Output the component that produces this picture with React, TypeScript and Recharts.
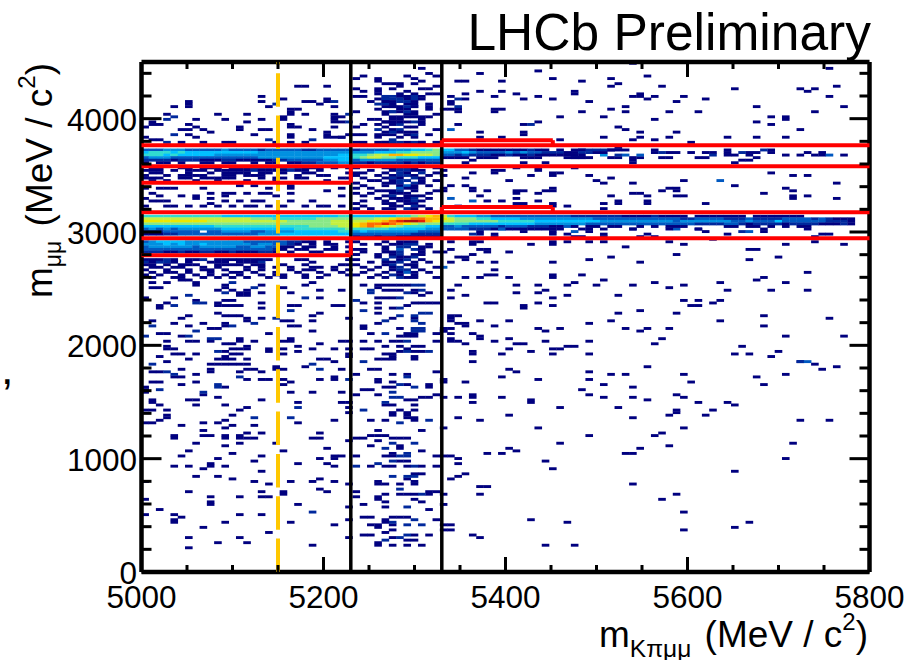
import { ScatterChart, Scatter, XAxis, YAxis, ReferenceLine } from "recharts";

const massDomain = [5000, 5800];
const dimuonDomain = [0, 4500];
const massBin = 8; // MeV per bin, 100 bins across
const dimuonBin = 22.5; // MeV per bin, 200 bins up

const massTicks = [5000, 5050, 5100, 5150, 5200, 5250, 5300, 5350, 5400, 5450, 5500, 5550, 5600, 5650, 5700, 5750, 5800];
const dimuonTicks = [0, 200, 400, 600, 800, 1000, 1200, 1400, 1600, 1800, 2000, 2200, 2400, 2600, 2800, 3000, 3200, 3400, 3600, 3800, 4000, 4200, 4400];

// colour scale of the histogram, index = level (0 is empty)
const palette = ["none", "#00007f", "#00289c", "#0058c0", "#0090e0", "#00c0ff", "#30dcd0", "#88e888", "#c4f040", "#ece800", "#ffb400", "#ff6a00", "#e82000", "#b01010"];

// single entries, [mass bin, dimuon bin]
const sparseLowRight = [
  [43,112],[51,112],[54,112],[58,112],[59,113],[62,112],[63,114],[67,112],[70,113],[72,111],[74,112],[79,113],[84,114],[88,113],[42,110],[55,110],[80,110],[86,110],[91,110],[44,108],[51,109],[54,109],[58,108],[65,108],[42,107],[56,107],[74,106],[76,106],[79,106],[47,105],[48,105],[54,105],[78,105],[75,104],[76,104],[52,104],[52,103],[56,104],[68,102],[43,100],[42,100],[65,101],[73,101],[85,100],[42,99],[42,98],[94,99],[46,98],[50,98],[64,98],[79,98],[43,97],[44,97],[44,96],[61,97],[85,96],[48,96],[41,95],[42,95],[54,95],[57,95],[66,95],[69,95],[72,95],[55,94],[68,94],[41,94],[42,93],[45,93],[46,92],[46,91],[88,92],[96,92],[71,91],[50,91],[42,91],[42,90],[43,90],[48,90],[55,90],[61,90],[44,89],[70,89],[51,89],[52,89],[58,88],[59,88],[82,88],[50,87],[56,87],[57,87],[53,86],[87,86],[45,86],[45,85],[49,85],[56,85],[61,85],[81,85],[83,85],[86,84],[45,82],[90,82],[92,81],[69,80],[95,80],[50,79],[93,79],[51,78],[61,78],[64,77],[66,77],[74,77],[88,77],[49,76],[84,76],[54,75],[61,75],[41,75],[41,74],[44,74],[75,74],[63,73],[85,73],[67,72],[60,71],[61,69],[73,69],[45,69],[45,68],[41,68],[43,68],[49,68],[63,68],[67,68],[74,68],[69,67],[53,67],[53,66],[45,66],[76,66],[80,66],[81,65],[57,64],[65,64],[78,63],[73,63],[73,62],[50,61],[72,61],[77,61],[43,60],[67,60],[46,59],[90,59],[94,59],[41,56],[54,56],[74,56],[61,53],[70,53],[71,54],[57,50],[72,49],[89,50],[50,48],[68,48],[51,47],[47,46],[49,46],[66,46],[67,46],[41,45],[42,45],[43,44],[88,44],[55,43],[43,42],[56,40],[81,39],[44,38],[43,37],[42,36],[67,34],[46,33],[47,33],[41,30],[46,30],[73,30],[71,28],[41,26],[74,23],[53,20],[58,19],[83,19],[41,18],[42,18],[81,17],[42,16],[74,16],[45,14],[46,13],[55,10],[59,10],
];

const sparseLowLeft = [
  [6,9],[10,11],[14,11],[6,13],[13,13],[23,10],[17,15],[8,17],[4,20],[4,19],[4,22],[5,21],[11,19],[20,19],[28,20],[26,18],[28,13],[21,26],[9,26],[9,27],[2,24],[13,22],[16,22],[0,22],[28,25],[0,28],[9,29],[13,29],[16,29],[17,29],[19,31],[19,30],[6,31],[16,31],[24,32],[25,31],[0,35],[15,35],[17,34],[20,35],[23,35],[24,36],[26,35],[28,34],[7,37],[10,37],[12,36],[16,39],[4,41],[6,41],[8,40],[9,42],[9,41],[11,41],[21,42],[25,42],[26,41],[15,43],[5,45],[10,44],[16,45],[24,44],[26,44],[26,45],[27,45],[12,46],[19,47],[6,47],[25,48],[11,49],[7,50],[13,50],[18,50],[28,51],[4,53],[4,52],[11,53],[11,52],[13,53],[13,52],[14,54],[14,52],[8,55],[8,53],[9,53],[16,54],[15,52],[24,54],[23,52],[24,52],[11,56],[12,57],[15,57],[5,57],[0,58],[1,58],[2,59],[8,58],[10,58],[11,59],[21,58],[26,59],[28,62],[3,61],[3,60],[12,61],[0,63],[1,63],[3,63],[13,63],[14,64],[7,65],[11,65],[2,65],[1,67],[1,66],[6,67],[7,67],[16,67],[21,66],[27,66],[28,66],[28,64],[8,69],[10,68],[0,70],[23,70],[20,70],[27,70],[0,72],[0,71],[5,73],[7,74],[11,72],[19,73],[1,74],[2,74],[14,75],[16,75],[17,75],[26,76],[26,75],[24,75],[20,74],[19,75],[4,76],[5,76],[7,77],[1,78],[2,78],[9,78],[13,78],[16,78],[5,79],[9,79],[14,79],[15,79],[18,79],[19,79],[27,79],[9,81],[10,81],[11,81],[12,81],[13,81],[14,81],[22,80],[18,80],[3,82],[6,83],[10,83],[11,83],[12,83],[14,83],[24,83],[25,83],[26,82],[2,84],[4,85],[5,85],[7,85],[11,84],[12,85],[13,85],[19,85],[28,85],[28,84],[21,86],[23,87],[21,88],[3,87],[4,87],[3,88],[11,86],[12,87],[13,87],[14,87],[14,88],[17,87],[17,86],[19,87],[26,87],[28,87],[3,90],[6,90],[7,90],[9,90],[11,89],[12,89],[13,91],[13,90],[15,90],[19,90],[20,90],[20,91],[24,89],[27,90],[28,90],[2,93],[3,93],[5,92],[17,93],[23,94],[9,95],[10,95],[11,97],[11,96],[4,97],[6,96],[8,97],[19,98],[20,98],[20,96],[21,96],[23,98],[1,98],[5,99],[14,98],[14,99],[13,100],[6,100],[10,101],[11,100],[12,100],[16,99],[28,99],[24,101],[23,100],[16,103],[2,104],[2,103],[3,105],[10,105],[10,104],[11,104],[12,104],[13,104],[16,105],[20,104],[21,104],[26,104],[27,104],[0,107],[4,107],[7,106],[11,106],[12,106],[14,109],[14,108],[13,108],[16,109],[20,109],[24,107],[27,110],[1,111],[2,111],[7,112],[7,113],[11,111],[11,112],[10,110],[12,110],[13,109],[14,110],[16,112],[19,111],[22,112],[23,113],[24,110],[1,113],[3,113],[5,114],[6,114],
];

const sparseLowCentre = [
  [32,10],[32,11],[34,10],[36,10],[38,10],[34,13],[37,14],[36,12],[37,12],[30,14],[31,14],[33,15],[34,16],[39,14],[31,18],[32,18],[32,17],[33,19],[34,21],[34,18],[33,20],[40,20],[30,21],[31,21],[35,21],[36,21],[41,16],[30,26],[33,25],[39,24],[32,28],[32,29],[33,30],[35,30],[36,30],[37,30],[39,31],[39,30],[40,31],[29,31],[29,29],[33,27],[38,27],[37,28],[32,35],[32,34],[33,34],[35,34],[37,35],[37,34],[36,36],[37,38],[38,38],[31,41],[33,41],[34,41],[36,41],[38,41],[40,41],[35,43],[36,43],[29,45],[33,45],[34,45],[40,45],[34,46],[38,47],[35,48],[35,49],[31,49],[32,51],[29,52],[30,52],[31,53],[32,53],[33,53],[34,52],[35,52],[36,52],[38,55],[32,55],[31,59],[33,59],[37,60],[37,59],[36,61],[36,60],[34,62],[34,61],[36,62],[37,63],[35,63],[33,65],[34,65],[37,65],[36,67],[37,67],[38,68],[39,68],[32,69],[40,69],[29,69],[30,71],[31,71],[33,72],[34,72],[32,75],[32,74],[34,74],[36,73],[39,73],[39,72],[29,77],[31,79],[32,79],[34,77],[36,77],[40,78],[32,83],[33,83],[34,84],[34,83],[37,84],[37,83],[36,87],[38,86],[37,86],[35,86],[33,85],[34,85],[30,87],[31,87],[33,88],[35,88],[38,88],[37,88],[30,90],[34,90],[35,90],[40,90],[32,90],[36,92],[37,92],[35,92],[36,93],[37,93],[40,93],[30,96],[30,95],[31,93],[35,95],[41,94],[32,97],[34,99],[37,99],[32,101],[34,103],[32,105],[32,103],[36,104],[37,105],[38,105],[39,105],[40,105],[30,105],[34,107],[32,107],[33,107],[38,108],[37,109],[39,109],[32,111],[33,110],[34,110],[35,110],[37,110],[32,112],[33,112],[34,112],[35,112],[36,112],[30,112],
];

const sparseHighLeft = [
  [21,190],[22,190],[25,190],[16,186],[16,184],[19,185],[4,182],[6,183],[6,182],[6,184],[17,182],[22,184],[23,184],[24,183],[25,184],[25,185],[26,182],[20,181],[20,180],[20,179],[21,181],[22,179],[26,179],[26,178],[26,177],[26,176],[27,178],[3,179],[10,179],[14,179],[7,177],[11,177],[16,177],[19,178],[19,177],[14,176],[1,176],[1,175],[2,175],[0,174],[6,175],[7,174],[5,173],[6,173],[8,173],[9,172],[13,174],[13,173],[20,175],[20,174],[21,174],[16,173],[17,173],[23,173],[26,174],[6,171],[7,170],[15,171],[20,171],[20,170],[25,172],[25,171],[25,170],[26,170],[27,170],[0,170],[1,169],[2,169],[28,171],[5,168],[8,168],[11,168],[12,168],[18,168],[20,168],[22,168],
  [2,150],[3,150],[4,150],[8,150],[13,151],[15,151],[17,150],[20,150],[20,151],[25,149],[27,150],[0,150],[1,148],[2,147],[5,147],[7,147],[9,148],[9,146],[11,148],[11,147],[12,148],[14,148],[17,148],[16,148],[20,148],[0,146],[1,145],[2,145],[3,145],[7,146],[9,144],[11,145],[13,145],[15,145],[16,145],[18,147],[20,145],[23,145],[27,147],[0,143],[4,143],[3,143],[6,143],[8,143],[10,143],[12,143],[14,143],[15,143],[17,143],[19,143],[22,143],[24,143],[25,143],[27,143],
];

const sparseHighCentre = [
  [38,197],[39,195],[40,194],[29,193],[30,194],[32,193],[32,192],[36,194],[37,193],[38,192],[37,191],[33,191],[34,191],[35,191],[35,190],[40,190],[39,189],[38,189],[32,189],[32,188],[29,189],[30,188],[34,189],[36,188],[37,187],[40,187],[39,187],[35,187],[32,187],[33,186],[29,186],[30,186],[33,184],[32,185],[31,184],[34,183],[34,182],[36,183],[37,183],[39,183],[39,182],[39,181],[36,181],[35,181],[29,180],[32,181],[36,179],[37,179],[33,179],[34,178],[35,178],[36,178],[37,178],[38,178],[39,178],[40,179],[31,177],[32,177],[34,177],[35,177],[38,177],[33,176],[34,175],[38,175],[29,174],[30,175],[32,175],[33,174],[36,174],[37,174],[40,173],[34,173],[30,171],[29,171],[33,171],[34,171],[36,171],[39,171],[32,171],[30,168],[33,168],[38,168],[35,170],[37,170],[32,170],[27,176],[27,170],
];

const sparseHighRight = [
  [46,195],[54,196],[67,199],[94,197],[56,193],[69,194],[64,193],[43,192],[44,192],[49,192],[60,192],[65,191],[64,190],[71,190],[95,190],[81,189],[90,189],[92,189],[91,188],[46,188],[49,188],[59,188],[59,187],[44,187],[51,187],[42,186],[48,186],[54,186],[67,186],[68,186],[68,187],[70,186],[74,186],[94,186],[44,185],[52,185],[56,185],[69,185],[77,185],[61,184],[73,184],[42,184],[42,183],[66,182],[84,182],[96,182],[41,181],[42,181],[43,181],[43,180],[48,181],[48,180],[49,181],[64,181],[60,180],[66,180],[72,180],[76,180],[92,180],[57,178],[63,178],[86,178],[88,178],[88,177],[70,177],[54,176],[43,175],[52,175],[84,176],[86,175],[65,174],[66,173],[90,173],[46,172],[68,172],[73,172],[52,172],[52,171],[46,170],[49,170],[63,170],[68,170],[72,170],[80,170],[84,170],[88,170],[57,169],[67,169],[70,169],[75,168],
  [65,166],[65,165],[64,165],[66,165],[70,165],[70,164],[72,164],[73,164],[75,164],[77,164],[78,164],[80,165],[80,164],[83,164],[86,165],[86,164],[84,164],[83,163],[80,163],[81,163],[88,163],[90,163],[91,164],[92,163],[93,164],[93,163],[96,163],[64,162],[65,162],[67,162],[67,161],[67,160],[68,162],[71,162],[72,162],[76,162],[77,162],[84,162],[82,161],[83,161],[81,160],[59,162],[60,162],[55,160],[52,160],[44,160],[45,161],
  [59,158],[51,158],[54,158],[54,157],[41,157],[45,156],[48,157],[48,156],[49,157],[56,156],[56,155],[57,156],[53,155],[61,155],[86,156],[89,155],[91,155],[41,155],[44,154],[64,154],[50,153],[62,153],[74,153],[63,152],[67,152],[95,152],[42,151],[44,151],[81,151],[45,150],[45,149],[41,150],[41,149],[72,150],[73,150],[88,150],[47,149],[52,149],[51,149],[51,148],[55,149],[56,150],[56,149],[54,148],[71,149],[73,149],[89,149],[67,148],[68,148],[85,148],[46,147],[64,147],[69,147],[73,147],[74,147],[89,147],[89,146],[91,147],[51,146],[95,146],[47,145],[49,145],[54,145],[65,145],[65,144],[69,145],[69,144],[77,144],[51,144],[52,144],[56,144],[56,143],[63,144],[58,143],[43,143],[63,142],
  [61,134],[61,133],[67,134],[76,134],[77,133],[85,134],[85,133],[91,134],[52,133],[56,133],[48,132],[46,133],[46,132],[69,132],[63,132],[80,132],[93,132],[94,132],[56,132],[58,132],[48,131],[68,131],[70,131],[92,131],[59,131],[60,131],[63,131],[78,130],[58,129],[61,129],[63,129],[72,129],[42,129],[46,129],[45,129],[45,128],[56,129],[56,128],[92,129],[53,128],[74,128],[88,128],[96,128],[66,127],[42,126],[46,126],[47,126],[47,125],[83,126],[84,126],[50,125],[41,125],[45,124],[73,124],[43,123],[44,123],[44,122],[64,123],[87,123],[61,122],[83,122],[42,121],[46,121],[48,121],[56,121],[68,121],[48,118],[91,117],[47,116],[48,116],[60,116],[44,115],[46,115],[50,115],[56,116],[56,115],[85,115],
];

// a little brighter than a single entry, [mass bin, dimuon bin, level]
const brighterCells = [
  [90,82,2],[91,82,3],[23,23,2],[15,60,2],[20,60,2],[21,64,2],[8,70,2],[2,71,2],[10,73,2],[10,72,2],[13,76,2],[28,75,2],[4,77,2],[3,78,2],[24,79,2],[1,81,2],[23,81,2],[10,86,2],[9,91,2],[10,91,2],[0,92,2],[6,92,2],[7,94,2],[12,96,2],[1,96,2],[15,97,2],[18,99,2],[20,102,2],[4,104,2],[7,105,2],[8,105,2],[6,108,2],[22,107,2],[11,109,2],[15,111,2],[12,113,2],
  [33,12,2],[35,13,2],[36,14,2],[34,19,2],[36,18,2],[38,18,2],[37,20,2],[36,25,2],[38,30,2],[35,32,2],[36,37,2],[34,37,2],[37,37,2],[29,41,2],[37,41,2],[32,42,2],[34,43,2],[35,45,2],[36,45,2],[36,46,2],[33,48,2],[34,50,2],[37,50,2],[35,58,2],[39,59,2],[30,63,2],[33,66,2],[34,68,2],[35,68,2],[34,70,2],[35,73,2],[37,72,2],[36,76,2],[30,82,2],[36,86,2],[39,86,2],[36,90,2],[33,93,2],[37,95,2],[37,94,2],[38,95,2],[38,94,2],[37,98,2],[33,98,2],[35,100,2],[37,100,2],[38,97,2],[39,101,2],[38,101,2],[30,102,2],[35,103,2],[29,106,2],[35,107,2],[36,109,2],[31,110,2],[31,109,2],[38,110,2],[37,112,2],[38,112,2],
  [18,183,2],[26,184,2],[28,179,2],[28,176,2],[4,178,2],[3,177,2],[4,171,2],[17,169,2],[23,169,2],[3,168,2],[37,186,2],[36,186,2],[32,183,2],[33,183,2],[37,182,2],[34,180,2],[35,175,2],[35,173,2],[32,173,2],[37,171,2],[34,169,2],
  [43,185,2],[42,173,3],[43,182,2],[53,175,2],[61,165,2],[60,165,2],[71,164,2],[78,163,2],[82,164,2],[85,165,2],[94,163,3],[63,163,4],[65,163,2],[66,163,3],[68,163,3],[42,146,3],[45,145,3],[49,134,3],[59,133,3],[82,133,2],[83,133,3],[73,134,3],[45,132,2],[41,119,3],[79,153,3],
];

// dense part of the picture: [dimuon bin, first mass bin, levels]
const psiBandLeft = [
  [165,0,[3,3,3,4,4,4,3,3,3,3,3,4,3,3,3,3,2,3,3,3,3,3,2,2,3,3,3,3,3]],
  [164,0,[5,6,6,6,5,6,5,5,5,5,5,5,5,5,5,5,4,4,4,4,4,4,4,4,4,4,4,4,4]],
  [163,0,[6,6,6,5,6,5,5,5,5,5,4,4,4,4,4,4,4,4,4,4,4,4,4,4,4,4,4,5,5]],
  [162,0,[3,4,4,4,3,3,3,3,3,3,3,3,3,3,3,3,4,4,4,4,4,4,4,4,4,5,5,5,5]],
  [161,0,[2,2,2,2,1,2,2,2,1,1,1,2,2,1,1,1,1,1,2,2,3,3,3,3,3,4,4,5,5]],
  [160,0,[1,0,1,1,0,1,0,0,1,1,0,1,1,0,0,1,0,1,1,0,1,1,2,2,3,3,3,4,4]],
  [158,0,[0,1,1,0,0,1,1,0,1,1,1,0,1,1,1,2,2,2,2,2,3,2,1,1,1,0,1,0,1]],
  [157,0,[1,1,1,0,1,0,1,1,1,0,1,1,1,1,1,2,1,1,1,1,2,1,1,0,1,0,0,0,0]],
  [156,0,[0,1,1,0,0,0,1,0,0,1,0,1,1,1,1,0,1,1,0,1,0,0,1,1,0,0,0,0,1]],
  [155,0,[1,0,0,1,0,1,1,1,1,0,0,1,1,0,1,1,1,0,0,0,0,1,0,0,1,1,0,0,0]],
  [154,0,[1,1,1,0,0,1,1,0,1,1,1,1,1,0,0,0,1,0,1,1,0,1,1,0,0,0,0,1,1]],
  [153,0,[0,1,0,1,0,0,0,1,0,0,1,0,0,0,1,0,0,0,1,0,0,0,0,0,0,1,0,0,0]],
];

const jpsiBandLeft = [
  [139,0,[6,6,6,6,6,6,6,6,6,6,6,5,5,5,5,5,5,5,5,5,5,5,5,5,5,5,5,6,6]],
  [138,0,[8,8,8,8,8,8,8,8,8,8,8,8,8,8,8,7,7,7,6,6,6,6,6,6,7,7,7,7,7]],
  [137,0,[9,9,9,9,9,9,9,9,9,8,8,8,8,8,8,8,8,8,8,8,7,7,7,7,7,7,8,8,8]],
  [136,0,[7,7,7,7,7,7,7,7,7,7,7,7,7,7,7,7,7,7,7,7,7,7,7,7,7,7,8,8,8]],
  [135,0,[5,5,5,5,5,5,5,5,5,5,6,6,6,6,6,6,6,6,6,6,6,6,6,7,7,7,7,8,8]],
  [134,0,[3,4,3,4,3,4,4,4,4,4,4,5,5,5,5,5,5,5,5,5,5,6,6,6,6,6,6,6,7]],
  [133,0,[2,2,2,3,3,3,3,3,0,3,3,4,4,4,4,3,3,4,4,4,4,5,5,5,5,5,5,6,6]],
  [132,0,[1,1,1,2,2,3,3,3,3,3,3,3,3,3,3,3,4,4,4,5,5,5,5,5,5,5,5,5,5]],
  [129,0,[3,4,5,5,5,5,4,4,4,4,4,4,4,4,3,3,3,3,3,3,2,2,1,1,0,1,0,0,1]],
  [128,0,[4,4,4,5,4,5,4,4,5,4,4,4,4,4,4,3,4,4,3,3,2,1,0,1,0,1,1,0,0]],
  [127,0,[3,4,4,4,4,4,4,3,4,4,4,4,4,3,3,4,4,3,3,1,1,0,1,1,0,0,1,0,1]],
  [126,0,[3,3,3,3,3,3,3,3,3,3,3,3,3,3,3,3,3,3,2,1,0,1,1,0,0,1,1,0,0]],
  [125,0,[2,2,2,1,1,2,1,1,2,2,1,1,2,1,1,1,2,2,1,0,1,0,0,1,1,0,0,0,1]],
  [122,0,[1,1,1,2,1,0,1,1,2,0,1,1,1,1,1,1,1,1,0,0,0,1,1,0,0,0,0,0,1]],
  [121,0,[2,1,2,2,1,0,1,0,0,1,1,1,0,1,1,1,2,0,0,0,0,0,0,1,0,0,0,0,0]],
  [120,0,[1,1,0,1,0,1,1,1,0,0,1,1,1,1,0,1,1,0,0,1,0,0,1,0,0,0,0,1,1]],
  [119,0,[0,1,1,0,1,1,0,0,1,0,1,0,0,0,1,0,1,0,1,0,1,0,0,1,1,0,1,0,0]],
  [118,0,[1,0,0,1,0,0,1,0,1,1,0,1,0,0,1,0,1,0,0,0,1,0,1,1,0,0,1,0,1]],
  [117,0,[0,1,0,1,1,0,1,0,0,1,0,0,1,1,0,1,0,0,1,0,0,1,0,0,1,0,0,1,0]],
  [116,0,[1,0,1,0,0,1,0,1,0,1,0,1,0,1,0,0,1,0,1,1,0,0,1,0,0,1,0,0,1]],
  [115,0,[0,1,0,0,1,1,0,0,1,0,1,0,1,0,1,0,0,1,0,1,0,0,1,0,1,0,0,0,0]],
];

const signalWindow = [
  [186,33,[2,2,1,1,2,1]],
  [185,33,[2,2,2,1,2,1]],
  [184,33,[1,1,2,2,1]],
  [182,33,[1,1,1,2,1]],
  [180,33,[1,2,1,2,1]],
  [176,33,[1,1,1,1,2,1]],
  [172,33,[1,2,1,1,1]],
  [168,29,[1,0,0,1,1,2,2,1,2,1,0,1]],
  [167,29,[0,1,0,1,2,1,2,2,1,1,1,0]],
  [165,29,[2,3,3,3,3,4,4,4,5,5,6,7]],
  [164,29,[4,4,4,5,5,5,6,6,7,7,7,7]],
  [163,29,[6,6,7,8,8,10,10,9,9,8,8,7]],
  [162,29,[6,7,8,8,7,7,6,6,6,5,5,5]],
  [161,29,[3,4,4,4,4,4,3,3,3,3,3,3]],
  [160,29,[2,2,1,2,2,2,2,1,2,1,2,2]],
  [158,29,[1,0,0,0,1,1,2,2,1,0,0,1]],
  [157,29,[0,0,1,0,0,1,2,2,1,1,0,0]],
  [156,29,[1,1,0,0,1,0,2,1,0,2,0,1]],
  [155,29,[1,0,0,1,0,1,2,2,1,0,1,0]],
  [154,29,[0,1,0,0,1,2,1,0,2,1,0,0]],
  [153,29,[0,0,1,1,0,1,2,2,0,1,0,1]],
  [152,29,[1,0,0,0,1,1,2,0,2,1,0,0]],
  [151,29,[0,1,0,0,1,0,1,3,1,0,1,0]],
  [150,29,[1,0,1,0,0,0,3,1,1,0,0,0]],
  [149,29,[0,0,0,1,1,1,2,0,1,0,0,1]],
  [148,29,[1,0,1,0,0,1,1,1,0,0,1,0]],
  [147,29,[0,1,0,0,1,2,0,1,1,1,0,0]],
  [146,29,[0,0,0,1,0,1,1,1,2,0,1,0]],
  [145,29,[0,1,0,0,1,0,1,1,2,1,0,0]],
  [144,29,[1,0,0,0,1,1,0,1,1,0,0,0]],
  [143,29,[0,1,0,0,0,1,1,0,2,1,0,0]],
  [142,29,[1,0,1,0,1,1,0,2,1,0,1,0]],
  [139,29,[5,5,5,5,5,5,6,6,7,8,9,10]],
  [138,29,[7,7,7,8,8,9,10,10,11,11,10,10]],
  [137,29,[8,8,9,9,10,11,12,13,13,12,10,9]],
  [136,29,[9,10,11,11,12,11,10,9,8,7,7,7]],
  [135,29,[9,10,11,10,9,8,7,6,6,6,5,5]],
  [134,29,[6,6,6,6,6,5,5,5,5,5,4,4]],
  [133,29,[4,5,4,4,4,4,4,4,4,3,3,3]],
  [132,29,[3,3,3,3,3,3,3,3,2,2,2,2]],
  [131,29,[1,2,2,1,2,2,1,1,1,1,1,1]],
  [129,29,[1,0,0,0,1,0,1,1,1,0,0,0]],
  [128,29,[0,1,0,1,0,1,1,2,2,0,1,0]],
  [127,29,[0,0,0,0,1,0,2,2,0,1,1,0]],
  [126,29,[1,1,0,0,1,0,3,0,2,1,0,0]],
  [125,29,[0,1,0,0,1,1,2,0,0,1,0,1]],
  [124,29,[1,0,0,1,0,1,2,0,1,1,0,0]],
  [123,29,[0,0,0,1,0,2,1,1,2,0,0,0]],
  [122,29,[1,0,0,0,2,0,1,2,0,1,0,0]],
  [121,29,[0,0,1,0,1,1,2,0,1,0,1,0]],
  [120,29,[1,0,0,0,1,2,0,1,1,0,0,0]],
  [119,29,[0,1,0,1,0,1,2,0,1,0,0,1]],
  [118,29,[0,0,1,0,0,1,2,2,0,1,0,0]],
  [117,29,[0,1,0,0,1,0,1,3,1,0,1,0]],
  [116,29,[1,0,0,1,0,2,1,0,1,0,0,0]],
  [115,29,[0,0,1,0,1,0,2,1,1,0,0,1]],
];

const bandsRight = [
  [165,41,[5,5,3,3,2,1,1,1,1,1,1,1,2,1,1,0,1,0,1,1,0,2,2,1]],
  [164,41,[4,4,4,5,4,3,3,3,3,4,3,4,3,3,2,2,2,1,1,2,2,1,1,0]],
  [163,41,[3,3,2,3,2,2,2,1,1,2,1,1,2,1,1,1,1,1,1,1,0,0,0,0]],
  [162,41,[1,1,1,1,0,1,1,1,0,0,0,1,1,1,0,0,0,1,1,1,1,0,0,0]],
  [139,41,[8,6,5,5,5,4,4,3,3,3,3,3,3,3,3,3,3,3,2,2,2,2,2,2,2,1,1,1,1,2,1,1,1,1,0,1,1,1,1,1,1,1,0,1,1,1,1,1,1,1,0,0,0,0]],
  [138,41,[9,8,7,7,7,6,6,5,5,5,5,4,4,4,4,4,4,4,4,4,4,3,3,3,3,3,3,3,3,3,3,3,3,2,2,3,3,3,3,2,2,2,3,2,2,2,2,3,3,3,3,2,3,2,1,1,1]],
  [137,41,[8,8,7,7,7,7,7,7,6,6,6,6,6,5,5,5,5,5,5,5,5,5,4,4,4,4,4,4,4,4,4,4,3,4,4,4,4,4,4,4,3,3,4,3,3,3,5,3,3,3,3,3,3,2,2,2,1]],
  [136,41,[6,6,6,6,5,5,5,5,5,5,5,5,5,4,4,4,4,4,4,4,3,3,3,3,3,3,3,3,3,3,3,3,3,3,3,2,2,2,2,3,3,2,1,2,2,2,2,1,2,2,2,2,1,1,1,2,1]],
  [135,41,[3,3,4,3,3,3,3,3,2,3,3,3,2,2,2,1,1,3,1,0,1,1,0,1,1,0,0,1,0,1,0,1,1,1,0,0,0,0,0,1,1,0,1,1,0,1,0,1,0,1,1,0]],
  [134,41,[3,3,3,3,2,2,2,1,3,1,1,1,1,1,1,1,1,0,0,1,0,0,1,0,0,0,1,0,0,0,0,1,0,0,0,1,0]],
];

const blackLines = [5230, 5330];
const orangeLine = 5150;
// selection boxes, each row: from mass, from dimuon, to mass, to dimuon
const redBoxes = [
  [5000,3175,5800,3175],[5000,2945,5800,2945],[5000,2795,5230,2795],[5230,2795,5230,2945],
  [5330,3175,5330,3220],[5330,3220,5452,3220],[5452,3220,5452,3175],
  [5000,3765,5800,3765],[5000,3580,5800,3580],[5000,3435,5230,3435],[5230,3435,5230,3580],
  [5330,3765,5330,3810],[5330,3810,5452,3810],[5452,3810,5452,3765],
];

const toCell = (i: number, j: number, level: number) => ({
  mass: massDomain[0] + massBin * (i + 0.5),
  dimuon: dimuonBin * (j + 0.5),
  level,
});

const singles = [...sparseLowRight, ...sparseLowLeft, ...sparseLowCentre, ...sparseHighLeft, ...sparseHighCentre, ...sparseHighRight];
const rows = [...psiBandLeft, ...jpsiBandLeft, ...signalWindow, ...bandsRight] as [number, number, number[]][];

const cells = [
  ...singles.map(([i, j]) => toCell(i, j, 1)),
  ...brighterCells.map(([i, j, level]) => toCell(i, j, level)),
  ...rows.flatMap(([j, start, levels]) =>
    levels.flatMap((level, k) => (level > 0 ? [toCell(start + k, j, level)] : []))
  ),
];

const massMajor = (m: number) => m % 200 === 0;
const dimuonMajor = (d: number) => d % 1000 === 0;

// inward tick marks (ROOT style) on all four sides, placed by the scales
const bottomTicks = massTicks.map((mass) => ({ mass, dimuon: dimuonDomain[0] }));
const topTicks = massTicks.map((mass) => ({ mass, dimuon: dimuonDomain[1] }));
const leftTicks = dimuonTicks.map((dimuon) => ({ mass: massDomain[0], dimuon }));
const rightTicks = dimuonTicks.map((dimuon) => ({ mass: massDomain[1], dimuon }));

const fontFamily = "Liberation Sans, Arial, sans-serif";

// where the frame sits in the picture, the chart margins below come from these
const frameLeft = 141.5;
const frameRight = 869.5;
const frameTop = 62;
const frameBottom = 572;

// one histogram bin, centred on the point from the scales
const BinCell = (props: any) => (
  <rect
    x={props.cx - 3.8}
    y={props.cy - 1.45}
    width={7.6}
    height={2.9}
    fill={palette[props.payload.level]}
  />
);

const BottomTick = ({ cx, cy, payload }: any) => {
  const len = massMajor(payload.mass) ? 15 : 7;
  return <rect x={cx - 1.5} y={cy - len} width={3} height={len} fill="#000" />;
};
const TopTick = ({ cx, cy, payload }: any) => {
  const len = massMajor(payload.mass) ? 15 : 7;
  return <rect x={cx - 1.5} y={cy} width={3} height={len} fill="#000" />;
};
const LeftTick = ({ cx, cy, payload }: any) => {
  const len = dimuonMajor(payload.dimuon) ? 20 : 10;
  return <rect x={cx} y={cy - 1.5} width={len} height={3} fill="#000" />;
};
const RightTick = ({ cx, cy, payload }: any) => {
  const len = dimuonMajor(payload.dimuon) ? 20 : 10;
  return <rect x={cx - len} y={cy - 1.5} width={len} height={3} fill="#000" />;
};

const BottomLabel = ({ x, payload }: any) =>
  massMajor(payload.value) ? (
    <text x={x} y={608} textAnchor="middle" fontSize={31.5} fontFamily={fontFamily} fill="#000">
      {payload.value}
    </text>
  ) : (
    <g />
  );

const LeftLabel = ({ y, payload }: any) =>
  dimuonMajor(payload.value) ? (
    <text x={137} y={y + 12} textAnchor="end" fontSize={31.5} fontFamily={fontFamily} fill="#000">
      {payload.value}
    </text>
  ) : (
    <g />
  );

// the scatter sits in a high layer by default, the lines have to go over it
const lineLayer = 700;
const boxLayer = 800;
const tickLayer = 900;

export default function App() {
  return (
    <div style={{ position: "absolute", left: 0, top: 0, width: 923, height: 660, background: "#fff" }}>
      <ScatterChart
        width={923}
        height={660}
        margin={{ top: frameTop - 10, right: 923 - frameRight - 10, bottom: 660 - frameBottom - 60, left: frameLeft - 60 }}
      >
        <Scatter data={cells} dataKey="dimuon" isAnimationActive={false} shape={BinCell} zIndex={100} />

        {blackLines.map((m) => (
          <ReferenceLine
            key={`mass-${m}`}
            segment={[{ x: m, y: dimuonDomain[0] }, { x: m, y: dimuonDomain[1] }]}
            stroke="#000"
            strokeWidth={3.5}
            zIndex={lineLayer}
          />
        ))}
        <ReferenceLine
          segment={[{ x: orangeLine, y: dimuonDomain[0] }, { x: orangeLine, y: dimuonDomain[1] }]}
          stroke="#ffc800"
          strokeWidth={4}
          strokeDasharray="33.5 8.8"
          zIndex={lineLayer}
        />

        <XAxis
          type="number"
          dataKey="mass"
          domain={massDomain}
          ticks={massTicks}
          interval={0}
          height={60}
          tickLine={false}
          axisLine={{ stroke: "#000", strokeWidth: 4.5 }}
          tick={BottomLabel}
        />
        <XAxis
          xAxisId="top"
          orientation="top"
          type="number"
          domain={massDomain}
          height={10}
          tickLine={false}
          axisLine={{ stroke: "#000", strokeWidth: 4.5 }}
          tick={false}
        />
        <YAxis
          type="number"
          dataKey="dimuon"
          domain={dimuonDomain}
          ticks={dimuonTicks}
          interval={0}
          width={60}
          tickLine={false}
          axisLine={{ stroke: "#000", strokeWidth: 4.5 }}
          tick={LeftLabel}
        />
        <YAxis
          yAxisId="right"
          orientation="right"
          type="number"
          domain={dimuonDomain}
          width={10}
          tickLine={false}
          axisLine={{ stroke: "#000", strokeWidth: 4.5 }}
          tick={false}
        />

        {redBoxes.map(([x1, y1, x2, y2], idx) => (
          <ReferenceLine
            key={`box-${idx}`}
            segment={[{ x: x1, y: y1 }, { x: x2, y: y2 }]}
            stroke="#ff0000"
            strokeWidth={4}
            zIndex={boxLayer}
          />
        ))}

        <Scatter data={bottomTicks} dataKey="dimuon" isAnimationActive={false} shape={BottomTick} zIndex={tickLayer} />
        <Scatter data={topTicks} dataKey="dimuon" isAnimationActive={false} shape={TopTick} zIndex={tickLayer} />
        <Scatter data={leftTicks} dataKey="dimuon" isAnimationActive={false} shape={LeftTick} zIndex={tickLayer} />
        <Scatter data={rightTicks} dataKey="dimuon" isAnimationActive={false} shape={RightTick} zIndex={tickLayer} />

        <text x={871} y={50} textAnchor="end" fontSize={51.5} fontFamily={fontFamily} fill="#000">
          LHCb Preliminary
        </text>
        <text x={868} y={647} textAnchor="end" fontSize={37} fontFamily={fontFamily} fill="#000">
          m
          <tspan fontSize={24.5} dy={10}>Kπμμ</tspan>
          <tspan dy={-10} dx={3}> (MeV / c</tspan>
          <tspan fontSize={24} dy={-17}>2</tspan>
          <tspan dy={17}>)</tspan>
        </text>
        <text
          transform="translate(52,63) rotate(-90)"
          textAnchor="end"
          fontSize={37}
          fontFamily={fontFamily}
          fill="#000"
        >
          m
          <tspan fontSize={23} dy={9}>μμ</tspan>
          <tspan dy={-9} dx={4}> (MeV / c</tspan>
          <tspan fontSize={24} dy={-17}>2</tspan>
          <tspan dy={17}>)</tspan>
        </text>
        <text x={1} y={384} fontSize={45} fontFamily={fontFamily} fill="#000">,</text>
      </ScatterChart>
    </div>
  );
}
